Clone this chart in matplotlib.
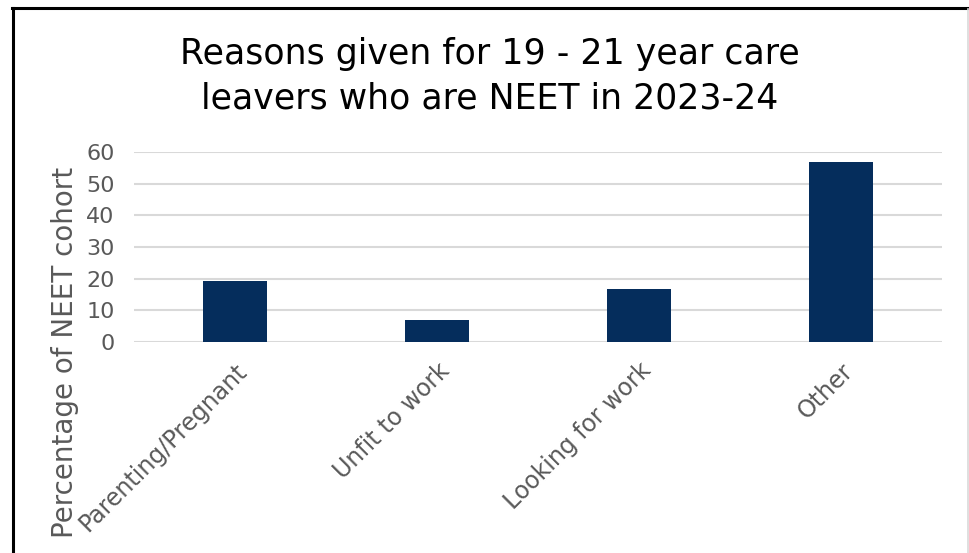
import matplotlib
matplotlib.use("Agg")
import matplotlib.pyplot as plt
from matplotlib.lines import Line2D

categories = ["Parenting/Pregnant", "Unfit to work", "Looking for work", "Other"]
values = [19.4, 7.0, 16.7, 57.0]
yticks = [0, 10, 20, 30, 40, 50, 60]

title = "Reasons given for 19 - 21 year care\nleavers who are NEET in 2023-24"
ylabel = "Percentage of NEET cohort"

plt.rcParams['font.family'] = ['DejaVu Sans']

W, H = 970, 553
fig = plt.figure(figsize=(W / 100, H / 100), dpi=100)
ax = fig.add_axes([134 / W, 1 - 342 / H, (942 - 134) / W, (342 - 152) / H])

x = range(len(categories))
ax.bar(x, values, width=0.317, color="#052d5c", zorder=3)
ax.set_xlim(-0.5, len(categories) - 0.5)
ax.set_ylim(0, 60)
ax.set_yticks(yticks)
ax.yaxis.grid(True, color="#d9d9d9", linewidth=1.5, zorder=0)
ax.set_axisbelow(True)
for s in ax.spines.values():
    s.set_visible(False)
ax.tick_params(axis="both", length=0, colors="#595959", labelsize=16)
ax.tick_params(axis="y", pad=14)
ax.set_xticks(list(x))
ax.set_xticklabels(categories, rotation=45, ha="right", va="top",
                   rotation_mode="anchor", fontsize=17)
ax.tick_params(axis="x", pad=12)
ax.set_ylabel(ylabel, color="#595959", fontsize=20, va="center")
ax.yaxis.set_label_coords((65 - 134) / (942 - 134), (342 - 352) / (342 - 152))
fig.text(490 / W, 1 - 76 / H, title, ha="center", va="center",
         fontsize=25, color="#000000", linespacing=1.4)

# frame lines
fig.add_artist(Line2D([13 / W, 13 / W], [0, 1 - 8 / H], color="black",
                      linewidth=2.2, transform=fig.transFigure))
fig.add_artist(Line2D([12 / W, 1], [1 - 8 / H, 1 - 8 / H], color="black",
                      linewidth=2.2, transform=fig.transFigure))
fig.add_artist(Line2D([968 / W, 968 / W], [0, 1 - 9 / H], color="#d9d9d9",
                      linewidth=1.2, transform=fig.transFigure))

fig.savefig("out.png", dpi=100)
